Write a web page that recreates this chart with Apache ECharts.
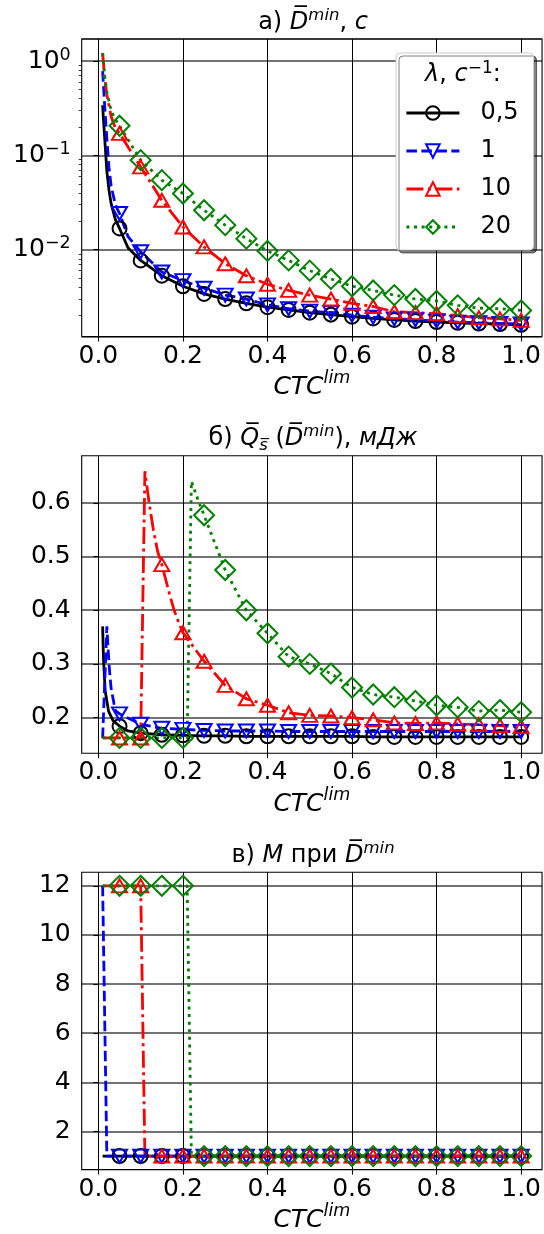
<!DOCTYPE html>
<html>
<head>
<meta charset="utf-8">
<script src="https://cdn.jsdelivr.net/npm/echarts@6/dist/echarts.min.js"></script>
<style>
  html, body { margin: 0; padding: 0; background: #fff; }
  #chart { width: 544px; height: 1234px; }
</style>
</head>
<body>
<div id="chart"></div>
<script>
var FONT = 'DejaVu Sans';

// legend names (lambda, 1/s)
var names = ['0,5', '1', '10', '20'];

// CTC^lim where markers are drawn
var ctc = [0.05, 0.10, 0.15, 0.20, 0.25, 0.30, 0.35, 0.40, 0.45, 0.50,
           0.55, 0.60, 0.65, 0.70, 0.75, 0.80, 0.85, 0.90, 0.95, 1.00];

var xTicks = [0, 0.2, 0.4, 0.6, 0.8, 1.0];
var qTicks = [0.2, 0.3, 0.4, 0.5, 0.6];
var mTicks = [2, 4, 6, 8, 10, 12];
var logMinor = [0.002, 0.003, 0.004, 0.005, 0.006, 0.007, 0.008, 0.009,
                0.02, 0.03, 0.04, 0.05, 0.06, 0.07, 0.08, 0.09,
                0.2, 0.3, 0.4, 0.5, 0.6, 0.7, 0.8, 0.9];

// a) D min, s  (values at ctc + extra line points without marker)
var dBlack = [0.0168, 0.0077, 0.0053, 0.0041, 0.0034, 0.0030, 0.0027, 0.00246, 0.0023, 0.00215,
              0.00205, 0.00195, 0.00187, 0.0018, 0.00175, 0.00171, 0.00168, 0.00165, 0.00163, 0.0016];
var dBlackHead = [[0.01, 0.34], [0.012, 0.24], [0.015, 0.15], [0.02, 0.068], [0.025, 0.043], [0.03, 0.031], [0.04, 0.021], [0.07, 0.0105]];
var dBlue = [0.0242, 0.0095, 0.0058, 0.0047, 0.0039, 0.0033, 0.0030, 0.0026, 0.00237, 0.00223,
             0.00216, 0.00202, 0.00193, 0.00185, 0.00181, 0.00175, 0.00171, 0.00168, 0.00165, 0.00163];
var dBlueHead = [[0.01, 0.78], [0.015, 0.33], [0.02, 0.15], [0.025, 0.075], [0.03, 0.048], [0.04, 0.030], [0.07, 0.0138]];
var dRed = [0.171, 0.0755, 0.0334, 0.0174, 0.0107, 0.0071, 0.0053, 0.0043, 0.0037, 0.0033,
            0.0030, 0.0027, 0.0025, 0.0022, 0.00215, 0.0021, 0.0020, 0.0019, 0.00185, 0.00178];
var dRedHead = [[0.01, 1.21], [0.015, 0.65], [0.02, 0.44], [0.03, 0.26], [0.04, 0.195]];
var dGreen = [0.206, 0.089, 0.0546, 0.0394, 0.0262, 0.0182, 0.0131, 0.0097, 0.0077, 0.0060,
              0.0049, 0.0041, 0.0037, 0.0033, 0.0030, 0.00286, 0.00257, 0.0024, 0.00237, 0.00227];
var dGreenHead = [[0.01, 1.21], [0.015, 0.68], [0.02, 0.47], [0.03, 0.30], [0.04, 0.24]];

// б) Qs, mJ
var qBlack = [0.184, 0.171, 0.168, 0.167, 0.166, 0.166, 0.165, 0.165, 0.165, 0.165,
              0.165, 0.165, 0.164, 0.164, 0.164, 0.164, 0.164, 0.164, 0.164, 0.164];
var qBlackHead = [[0.01, 0.37], [0.012, 0.31], [0.016, 0.25], [0.024, 0.212], [0.035, 0.194], [0.07, 0.175]];
var qBlue = [0.207, 0.1875, 0.180, 0.178, 0.176, 0.175, 0.175, 0.175, 0.174, 0.174,
             0.174, 0.174, 0.174, 0.174, 0.174, 0.174, 0.174, 0.174, 0.174, 0.174];
var qBlueHead = [[0.01, 0.162], [0.02, 0.37], [0.025, 0.30], [0.03, 0.255], [0.04, 0.213]];
var qRed = [0.162, 0.162, 0.485, 0.358, 0.305, 0.26, 0.235, 0.223, 0.209, 0.204,
            0.203, 0.200, 0.196, 0.190, 0.189, 0.190, 0.188, 0.187, 0.185, 0.183];
var qRedHead = [[0.01, 0.162], [0.11, 0.659], [0.12, 0.60], [0.13, 0.55], [0.14, 0.51],
                [0.16, 0.455], [0.17, 0.425], [0.18, 0.398], [0.19, 0.377]];
var qGreen = [0.162, 0.162, 0.162, 0.162, 0.577, 0.475, 0.40, 0.357, 0.3135, 0.300,
              0.282, 0.256, 0.243, 0.238, 0.231, 0.223, 0.219, 0.212, 0.214, 0.21];
var qGreenHead = [[0.01, 0.162], [0.21, 0.162], [0.22, 0.64], [0.23, 0.618], [0.24, 0.597]];

// в) M
var mBlack = [1, 1, 1, 1, 1, 1, 1, 1, 1, 1, 1, 1, 1, 1, 1, 1, 1, 1, 1, 1];
var mBlackHead = [[0.01, 1]];
var mBlue = [1, 1, 1, 1, 1, 1, 1, 1, 1, 1, 1, 1, 1, 1, 1, 1, 1, 1, 1, 1];
var mBlueHead = [[0.01, 12], [0.02, 1]];
var mRed = [12, 12, 1, 1, 1, 1, 1, 1, 1, 1, 1, 1, 1, 1, 1, 1, 1, 1, 1, 1];
var mRedHead = [[0.01, 12], [0.11, 1]];
var mGreen = [12, 12, 12, 12, 1, 1, 1, 1, 1, 1, 1, 1, 1, 1, 1, 1, 1, 1, 1, 1];
var mGreenHead = [[0.01, 12], [0.21, 12], [0.22, 1]];

var styles = [
    {color: '#000000', dash: 'solid', symbol: 'circle', size: 14, rotate: 0},
    {color: '#0000ff', dash: [10.5, 4.5], symbol: 'triangle', size: [15, 13], rotate: 180},
    {color: '#ff0000', dash: [17, 4.5, 3, 4.5], symbol: 'triangle', size: [15, 13], rotate: 0},
    {color: '#008000', dash: [3, 4.6], symbol: 'diamond', size: 20, rotate: 0}
];

function build(head, vals) {
    var pts = head.map(function (p) { return {value: p, symbol: 'none'}; });
    ctc.forEach(function (x, i) { pts.push({value: [x, vals[i]]}); });
    pts.sort(function (a, b) { return a.value[0] - b.value[0]; });
    return pts;
}

var panels = [
    [[dBlackHead, dBlack], [dBlueHead, dBlue], [dRedHead, dRed], [dGreenHead, dGreen]],
    [[qBlackHead, qBlack], [qBlueHead, qBlue], [qRedHead, qRed], [qGreenHead, qGreen]],
    [[mBlackHead, mBlack], [mBlueHead, mBlue], [mRedHead, mRed], [mGreenHead, mGreen]]
];

var series = [];
panels.forEach(function (panel, g) {
    panel.forEach(function (s, k) {
        var st = styles[k];
        series.push({
            type: 'line', name: names[k], xAxisIndex: g, yAxisIndex: g,
            data: build(s[0], s[1]),
            symbol: st.symbol, symbolSize: st.size, symbolRotate: st.rotate,
            showSymbol: true, showAllSymbol: true,
            lineStyle: {color: st.color, width: 2.8, type: st.dash},
            itemStyle: {color: 'transparent', borderColor: st.color, borderWidth: 2},
            emphasis: {disabled: true},
            animation: false
        });
    });
});

var gridTops = [39, 455.7, 872.3];
var grids = gridTops.map(function (t) {
    return {left: 81.7, top: t, width: 463, height: 297.5, show: true,
            borderColor: '#000', borderWidth: 1.1, backgroundColor: 'transparent'};
});

var tickLine = {color: '#000', width: 1.1};
var hSplit = {show: true, lineStyle: {color: 'rgba(0,0,0,0.55)', width: 2}};

var xAxes = [0, 1, 2].map(function (g) {
    return {
        type: 'value', gridIndex: g, min: -0.0395, max: 1.0495,
        axisLine: {show: false},
        axisTick: {show: true, length: 5, lineStyle: tickLine, customValues: xTicks},
        axisLabel: {customValues: xTicks, formatter: function (v) { return v.toFixed(1); },
                    fontSize: 25, fontFamily: FONT, color: '#000', margin: 7},
        splitLine: {show: true, lineStyle: {color: '#000', width: 1}},
        name: '{i|CTC}{s|lim}', nameLocation: 'middle', nameGap: 32,
        nameTextStyle: {
            fontFamily: FONT, color: '#000',
            rich: {
                i: {fontSize: 25, fontStyle: 'italic', fontFamily: FONT, color: '#000', lineHeight: 36, verticalAlign: 'middle'},
                s: {fontSize: 17.5, fontStyle: 'italic', fontFamily: FONT, color: '#000', lineHeight: 18, verticalAlign: 'top'}
            }
        }
    };
});

var yLabel = {fontSize: 25, fontFamily: FONT, color: '#000', margin: 11};

var yAxes = [
    {
        type: 'log', logBase: 10, gridIndex: 0, min: 0.001202, max: 1.712,
        axisLine: {show: false},
        axisTick: {show: true, length: 5, lineStyle: tickLine},
        axisLabel: {
            margin: 11, color: '#000', showMinLabel: false, showMaxLabel: false,
            formatter: function (v) {
                var e = Math.round(Math.log10(v));
                return '{b|10}{s|' + (e < 0 ? '\u2212' : '') + Math.abs(e) + '}';
            },
            rich: {
                b: {fontSize: 25, fontFamily: FONT, color: '#000', lineHeight: 30, verticalAlign: 'middle'},
                s: {fontSize: 17.5, fontFamily: FONT, color: '#000', lineHeight: 18, verticalAlign: 'top'}
            }
        },
        splitLine: hSplit
    },
    {
        type: 'value', gridIndex: 1, min: 0.1336, max: 0.688,
        axisLine: {show: false},
        axisTick: {show: true, length: 5, lineStyle: tickLine, customValues: qTicks},
        axisLabel: Object.assign({customValues: qTicks, formatter: function (v) { return v.toFixed(1); }}, yLabel),
        splitLine: hSplit
    },
    {
        type: 'value', gridIndex: 2, min: 0.45, max: 12.55,
        axisLine: {show: false},
        axisTick: {show: true, length: 5, lineStyle: tickLine, customValues: mTicks},
        axisLabel: Object.assign({customValues: mTicks, formatter: function (v) { return String(v); }}, yLabel),
        splitLine: hSplit
    },
    {
        // minor ticks of the log axis
        type: 'log', logBase: 10, gridIndex: 0, min: 0.001202, max: 1.712, position: 'left',
        axisLine: {show: false},
        axisTick: {show: true, length: 3, lineStyle: {color: '#000', width: 0.8}, customValues: logMinor},
        axisLabel: {show: false},
        splitLine: {show: false}
    }
];

var tRich = {
    n: {fontSize: 24, fontFamily: FONT, fill: '#000', lineHeight: 31, verticalAlign: 'middle'},
    i: {fontSize: 24, fontFamily: FONT, fontStyle: 'italic', fill: '#000', lineHeight: 31, verticalAlign: 'middle'},
    s: {fontSize: 16.5, fontFamily: FONT, fontStyle: 'italic', fill: '#000', lineHeight: 17, verticalAlign: 'top'},
    sub: {fontSize: 16.5, fontFamily: FONT, fontStyle: 'italic', fill: '#000', lineHeight: 17, verticalAlign: 'bottom'}
};
var lRich = {
    n: {fontSize: 24, fontFamily: FONT, fill: '#000', lineHeight: 30, verticalAlign: 'middle'},
    i: {fontSize: 24, fontFamily: FONT, fontStyle: 'italic', fill: '#000', lineHeight: 30, verticalAlign: 'middle'},
    s: {fontSize: 17, fontFamily: FONT, fill: '#000', lineHeight: 17, verticalAlign: 'top'}
};

var titles = [
    '{n|а) }{i|D\u0305}{s|min}{n|, }{i|c}',
    '{n|б) }{i|Q\u0305}{sub|s\u0305}{n| (}{i|D\u0305}{s|min}{n|), }{i|мДж}',
    '{n|в) }{i|M}{n| при }{i|D\u0305}{s|min}'
];

var graphic = titles.map(function (t, g) {
    return {type: 'text', x: 313, y: gridTops[g] - 8.3 + 7.2,
            style: {text: t, rich: tRich, align: 'center', verticalAlign: 'bottom', fill: '#000',
                    fontSize: 24, fontFamily: FONT}, z: 10};
});
graphic.push({type: 'text', x: 463, y: 90, z: 100,
              style: {text: '{i|λ}{n|, }{i|c}{s|\u22121}{n|:}', rich: lRich, align: 'center',
                      verticalAlign: 'bottom', fill: '#000', fontSize: 24, fontFamily: FONT}});

var myChart = echarts.init(document.getElementById('chart'), null, {renderer: 'canvas'});
myChart.setOption({
    animation: false,
    backgroundColor: '#fff',
    grid: grids,
    xAxis: xAxes,
    yAxis: yAxes,
    legend: {
        left: 396, top: 53, orient: 'vertical',
        padding: [48, 15, 11, 9],
        itemWidth: 53, itemHeight: 17, itemGap: 14,
        backgroundColor: '#fff', borderColor: '#cccccc', borderWidth: 1, borderRadius: 4,
        shadowColor: 'rgba(0,0,0,0.5)', shadowOffsetX: 3, shadowOffsetY: 3, shadowBlur: 0,
        textStyle: {fontSize: 24, fontFamily: FONT, color: '#000', lineHeight: 24, padding: [0, 0, 0, 16]},
        lineStyle: {width: 2.8},
        itemStyle: {borderWidth: 2},
        selectedMode: false,
        data: names
    },
    graphic: graphic,
    series: series
});
</script>
</body>
</html>
